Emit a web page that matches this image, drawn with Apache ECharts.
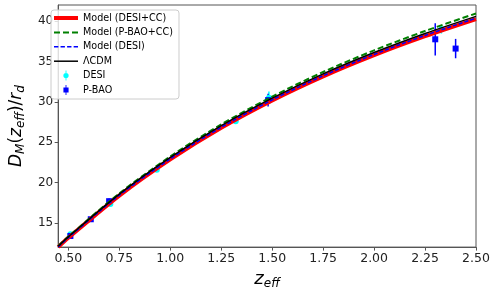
<!DOCTYPE html>
<html>
<head>
<meta charset="utf-8">
<script src="https://cdn.jsdelivr.net/npm/echarts@6/dist/echarts.min.js"></script>
<style>html,body{margin:0;padding:0;background:#fff}#c{width:495px;height:295px}</style>
</head>
<body>
<div id="c"></div>
<script>
// model curves
const zGrid = [0.45, 0.5, 0.75, 1.0, 1.25, 1.5, 1.75, 2.0, 2.25, 2.5];
const lcdm = [12.10, 13.27, 18.57, 23.12, 27.06, 30.47, 33.47, 36.11, 38.47, 40.59];
const modelDesiCC = [12.00, 13.15, 18.38, 22.87, 26.78, 30.17, 33.15, 35.78, 38.13, 40.25];
const modelDesi = [12.02, 13.18, 18.42, 22.92, 26.84, 30.24, 33.23, 35.87, 38.23, 40.36];
const modelPbaoCC = [12.12, 13.30, 18.65, 23.23, 27.20, 30.65, 33.70, 36.38, 38.78, 40.95];
// data points
const desiZ = [0.510, 0.706, 0.934, 1.321, 1.484, 2.330];
const desiV = [13.59, 17.35, 21.58, 27.60, 30.51, 38.99];
const desiE = [0.17, 0.18, 0.15, 0.32, 0.76, 0.53];
const pbaoZ = [0.51, 0.61, 0.70, 1.48, 2.30, 2.40];
const pbaoV = [13.38, 15.45, 17.69, 30.21, 37.75, 36.60];
const pbaoE = [0.18, 0.22, 0.33, 0.79, 2.00, 1.20];
// ticks
const xTicks = [0.5, 0.75, 1.0, 1.25, 1.5, 1.75, 2.0, 2.25, 2.5];
const yTicks = [15, 20, 25, 30, 35, 40];

const FONT = 'DejaVu Sans';
const pair = (xs, ys) => xs.map((x, i) => [x, ys[i]]);
const triple = (xs, ys, es) => xs.map((x, i) => [x, ys[i], es[i]]);

function errBar(color) {
  return function (params, api) {
    const x = api.value(0), y = api.value(1), e = api.value(2);
    const a = api.coord([x, y - e]), b = api.coord([x, y + e]);
    return { type: 'line', shape: { x1: a[0], y1: a[1], x2: b[0], y2: b[1] },
      style: { stroke: color, lineWidth: 1.5 } };
  };
}

const chart = echarts.init(document.getElementById('c'), null, { renderer: 'canvas' });
const lineS = (name, data, color, width, type) => ({
  name, type: 'line', data: pair(zGrid, data), smooth: 0.3, symbol: 'none',
  lineStyle: { color, width, type }, itemStyle: { color }, animation: false
});
chart.setOption({
  animation: false,
  textStyle: { fontFamily: FONT },
  grid: { left: 46, right: 19, top: 5, bottom: 41, show: true, borderColor: '#555', borderWidth: 1, containLabel: false },
  legend: {
    orient: 'vertical', left: 51, top: 10,
    padding: [3, 6, 4, 3], itemGap: 4.4, itemWidth: 24, itemHeight: 10,
    borderColor: '#ccc', borderWidth: 1, borderRadius: 3, backgroundColor: 'rgba(255,255,255,0.8)',
    textStyle: { fontFamily: FONT, fontSize: 9.6, color: '#000' },
    data: [
      { name: 'Model (DESI+CC)', icon: 'path://M0,0h24v4h-24z', itemStyle: { color: '#ff0000' } },
      { name: 'Model (P-BAO+CC)', icon: 'path://M0,0h6v2h-6z M9,0h6v2h-6z M18,0h6v2h-6z', itemStyle: { color: '#008000' } },
      { name: 'Model (DESI)', icon: 'path://M0,0h4v1.5h-4z M6,0h4v1.5h-4z M12,0h4v1.5h-4z M18,0h4v1.5h-4z', itemStyle: { color: '#0000ff' } },
      { name: 'ΛCDM', icon: 'path://M0,0h24v1.5h-24z', itemStyle: { color: '#000000' } },
      { name: 'DESI', icon: 'path://M3.4,0h1.2v14h-1.2z M4,3.3 A3.7,3.7 0 1 1 3.99,3.3 z', itemStyle: { color: '#00ffff' } },
      { name: 'P-BAO', icon: 'path://M3.4,0h1.2v14h-1.2z M0.4,3.4h7.2v7.2h-7.2z', itemStyle: { color: '#0000ff' } }
    ]
  },
  xAxis: {
    type: 'value', min: 0.45, max: 2.5,
    name: '{i|z}{s|eff}', nameLocation: 'middle', nameGap: 18,
    nameTextStyle: { rich: {
      i: { fontFamily: FONT, fontStyle: 'italic', fontSize: 18, color: '#000' },
      s: { fontFamily: FONT, fontStyle: 'italic', fontSize: 12, color: '#000', padding: [10, 0, 0, 0] }
    } },
    axisLine: { show: true, lineStyle: { color: '#555' } },
    axisTick: { show: true, length: 3.5, customValues: xTicks, lineStyle: { color: '#555' } },
    axisLabel: { customValues: xTicks, fontFamily: FONT, fontSize: 12.5, color: '#222', margin: 5,
      formatter: v => v.toFixed(2) },
    splitLine: { show: false }
  },
  yAxis: {
    type: 'value', min: 12, max: 42,
    name: '{i|D}{s|M}{n|(}{i|z}{s|eff}{n|)/}{i|r}{s|d}', nameLocation: 'middle', nameGap: 22,
    nameTextStyle: { rich: {
      i: { fontFamily: FONT, fontStyle: 'italic', fontSize: 17, color: '#000' },
      n: { fontFamily: FONT, fontSize: 17, color: '#000' },
      s: { fontFamily: FONT, fontStyle: 'italic', fontSize: 12, color: '#000', padding: [9, 0, 0, 0] }
    } },
    axisLine: { show: true, lineStyle: { color: '#555' } },
    axisTick: { show: true, length: 3.5, customValues: yTicks, lineStyle: { color: '#555' } },
    axisLabel: { customValues: yTicks, fontFamily: FONT, fontSize: 12, color: '#222', margin: 5 },
    splitLine: { show: false }
  },
  series: [
    lineS('Model (DESI+CC)', modelDesiCC, '#ff0000', 4, 'solid'),
    lineS('Model (P-BAO+CC)', modelPbaoCC, '#008000', 2, [6, 3]),
    lineS('Model (DESI)', modelDesi, '#0000ff', 1.5, [4, 2]),
    lineS('ΛCDM', lcdm, '#000000', 1.5, 'solid'),
    { name: 'DESI', type: 'custom', renderItem: errBar('#00ffff'), data: triple(desiZ, desiV, desiE),
      encode: { x: 0, y: 1 }, itemStyle: { color: '#00ffff' }, animation: false },
    { name: 'DESI', type: 'scatter', data: pair(desiZ, desiV), symbol: 'circle', symbolSize: 6,
      itemStyle: { color: '#00ffff', opacity: 1 }, animation: false },
    { name: 'P-BAO', type: 'custom', renderItem: errBar('#0000ff'), data: triple(pbaoZ, pbaoV, pbaoE),
      encode: { x: 0, y: 1 }, itemStyle: { color: '#0000ff' }, animation: false },
    { name: 'P-BAO', type: 'scatter', data: pair(pbaoZ, pbaoV), symbol: 'rect', symbolSize: 6,
      itemStyle: { color: '#0000ff', opacity: 1 }, animation: false }
  ]
});
</script>
</body>
</html>
